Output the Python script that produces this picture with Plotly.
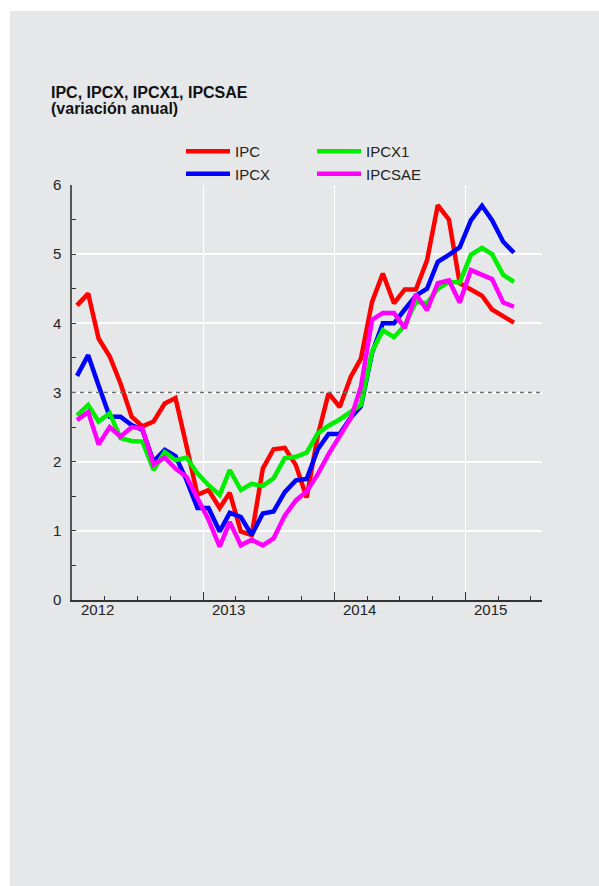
import plotly.graph_objects as go
import pandas as pd

months = pd.date_range("2012-01-01", periods=41, freq="MS") + pd.Timedelta(days=14)

ipc = [4.26, 4.43, 3.78, 3.52, 3.13, 2.65, 2.51, 2.58, 2.84, 2.92, 2.22, 1.52,
       1.59, 1.33, 1.55, 0.99, 0.94, 1.90, 2.18, 2.20, 1.95, 1.48, 2.38, 2.99,
       2.79, 3.23, 3.49, 4.31, 4.72, 4.29, 4.49, 4.49, 4.91, 5.71, 5.50, 4.58,
       4.49, 4.40, 4.20, 4.11, 4.01]
ipcx = [3.24, 3.54, 3.10, 2.65, 2.65, 2.53, 2.46, 2.00, 2.17, 2.08, 1.73, 1.33,
        1.33, 0.99, 1.26, 1.20, 0.94, 1.25, 1.28, 1.56, 1.73, 1.75, 2.18, 2.40,
        2.40, 2.64, 2.80, 3.57, 4.00, 4.00, 4.20, 4.40, 4.50, 4.89, 4.99, 5.10,
        5.49, 5.70, 5.49, 5.18, 5.02]
ipcx1 = [2.67, 2.82, 2.58, 2.70, 2.34, 2.30, 2.29, 1.88, 2.14, 2.02, 2.06, 1.83,
         1.66, 1.52, 1.88, 1.59, 1.68, 1.65, 1.76, 2.05, 2.07, 2.13, 2.41, 2.52,
         2.61, 2.72, 2.82, 3.59, 3.90, 3.80, 3.97, 4.31, 4.29, 4.50, 4.60, 4.59,
         4.99, 5.09, 5.00, 4.70, 4.60]
ipcsae = [2.60, 2.72, 2.25, 2.50, 2.36, 2.50, 2.48, 1.96, 2.06, 1.90, 1.78, 1.49,
          1.16, 0.77, 1.13, 0.79, 0.87, 0.79, 0.89, 1.22, 1.44, 1.57, 1.82, 2.11,
          2.36, 2.63, 3.08, 4.05, 4.15, 4.15, 3.93, 4.42, 4.19, 4.58, 4.62, 4.30,
          4.77, 4.70, 4.64, 4.30, 4.24]

year_starts = ["2013-01-01", "2014-01-01", "2015-01-01"]
label_pos = ["2012-03-12", "2013-03-12", "2014-03-12", "2015-03-12"]
year_labels = ["2012", "2013", "2014", "2015"]

BG = "#e6e7e9"
FONT = "Liberation Sans, Arial, sans-serif"

fig = go.Figure()
series = [("IPC", ipc, "#ff0000", "legend"),
          ("IPCX", ipcx, "#0000ff", "legend"),
          ("IPCX1", ipcx1, "#00ee00", "legend2"),
          ("IPCSAE", ipcsae, "#ff00ff", "legend2")]
for name, vals, col, lg in series:
    fig.add_trace(go.Scatter(x=months, y=vals, name=name, mode="lines",
                             line=dict(color=col, width=4.5), legend=lg))

W, H = 599, 886
L, R, T, B = 72, 57, 185, 286
pw, ph = W - L - R, H - T - B

def px_x(p):
    return (p - L) / pw

def px_y(p):
    return (H - B - p) / ph

fig.update_layout(
    width=W, height=H,
    margin=dict(l=L, r=R, t=T, b=B),
    paper_bgcolor=BG, plot_bgcolor=BG,
    font=dict(family=FONT, size=15, color="#222"),
    legend=dict(x=px_x(181), y=px_y(135), xanchor="left", yanchor="top",
                bgcolor="rgba(0,0,0,0)", font=dict(size=15), itemwidth=44),
    legend2=dict(x=px_x(312), y=px_y(135), xanchor="left", yanchor="top",
                 bgcolor="rgba(0,0,0,0)", font=dict(size=15), itemwidth=44),
    xaxis=dict(type="date", range=["2012-01-01", "2015-08-01"],
               tickvals=year_starts, ticktext=["", "", ""],
               ticks="inside", ticklen=8, tickcolor="#333", tickwidth=1,
               showgrid=True, gridcolor="white", gridwidth=1,
               showline=True, linecolor="#333", linewidth=1.5,
               minor=dict(dtick="M3", tick0="2012-01-01", ticks="inside",
                          ticklen=4, tickcolor="#333", showgrid=False),
               zeroline=False),
    yaxis=dict(range=[0, 6], dtick=1, tick0=0,
               ticks="inside", ticklen=4, tickcolor="#333",
               showgrid=True, gridcolor="white", gridwidth=1.5,
               showline=True, linecolor="#555", linewidth=1.5,
               zeroline=False, tickfont=dict(size=15, color="#222"),
               ticklabelstandoff=6,
               minor=dict(dtick=0.5, ticks="inside", ticklen=4,
                          tickcolor="#333", showgrid=False)),
)

# year labels along the x axis
for pos, lab in zip(label_pos, year_labels):
    fig.add_annotation(text=lab, x=pos, xref="x", y=0, yref="paper",
                       yanchor="top", yshift=1, showarrow=False,
                       font=dict(size=15, color="#222"))

# white outer margin (panel starts at 10px left / 11px top)
fig.add_shape(type="rect", xref="paper", yref="paper", layer="below",
              x0=px_x(0), x1=px_x(10), y0=px_y(H), y1=px_y(0),
              fillcolor="white", line=dict(width=0))
fig.add_shape(type="rect", xref="paper", yref="paper", layer="below",
              x0=px_x(0), x1=px_x(W), y0=px_y(11), y1=px_y(0),
              fillcolor="white", line=dict(width=0))

# reference dashed line at 3
fig.add_hline(y=3, line=dict(color="#6e6e6e", width=1.5, dash="4px,4px"),
              layer="above")

fig.add_annotation(text="<b>IPC, IPCX, IPCX1, IPCSAE</b>", xref="paper", yref="paper",
                   x=px_x(49), y=px_y(82), xanchor="left", yanchor="top",
                   showarrow=False, font=dict(size=16, color="#111"))
fig.add_annotation(text="<b>(variación anual)</b>", xref="paper", yref="paper",
                   x=px_x(49), y=px_y(98), xanchor="left", yanchor="top",
                   showarrow=False, font=dict(size=16, color="#111"))

fig.write_html("out.html", config={"displayModeBar": False},
               post_script="document.body.style.margin='0';document.body.style.background='%s';" % BG)
